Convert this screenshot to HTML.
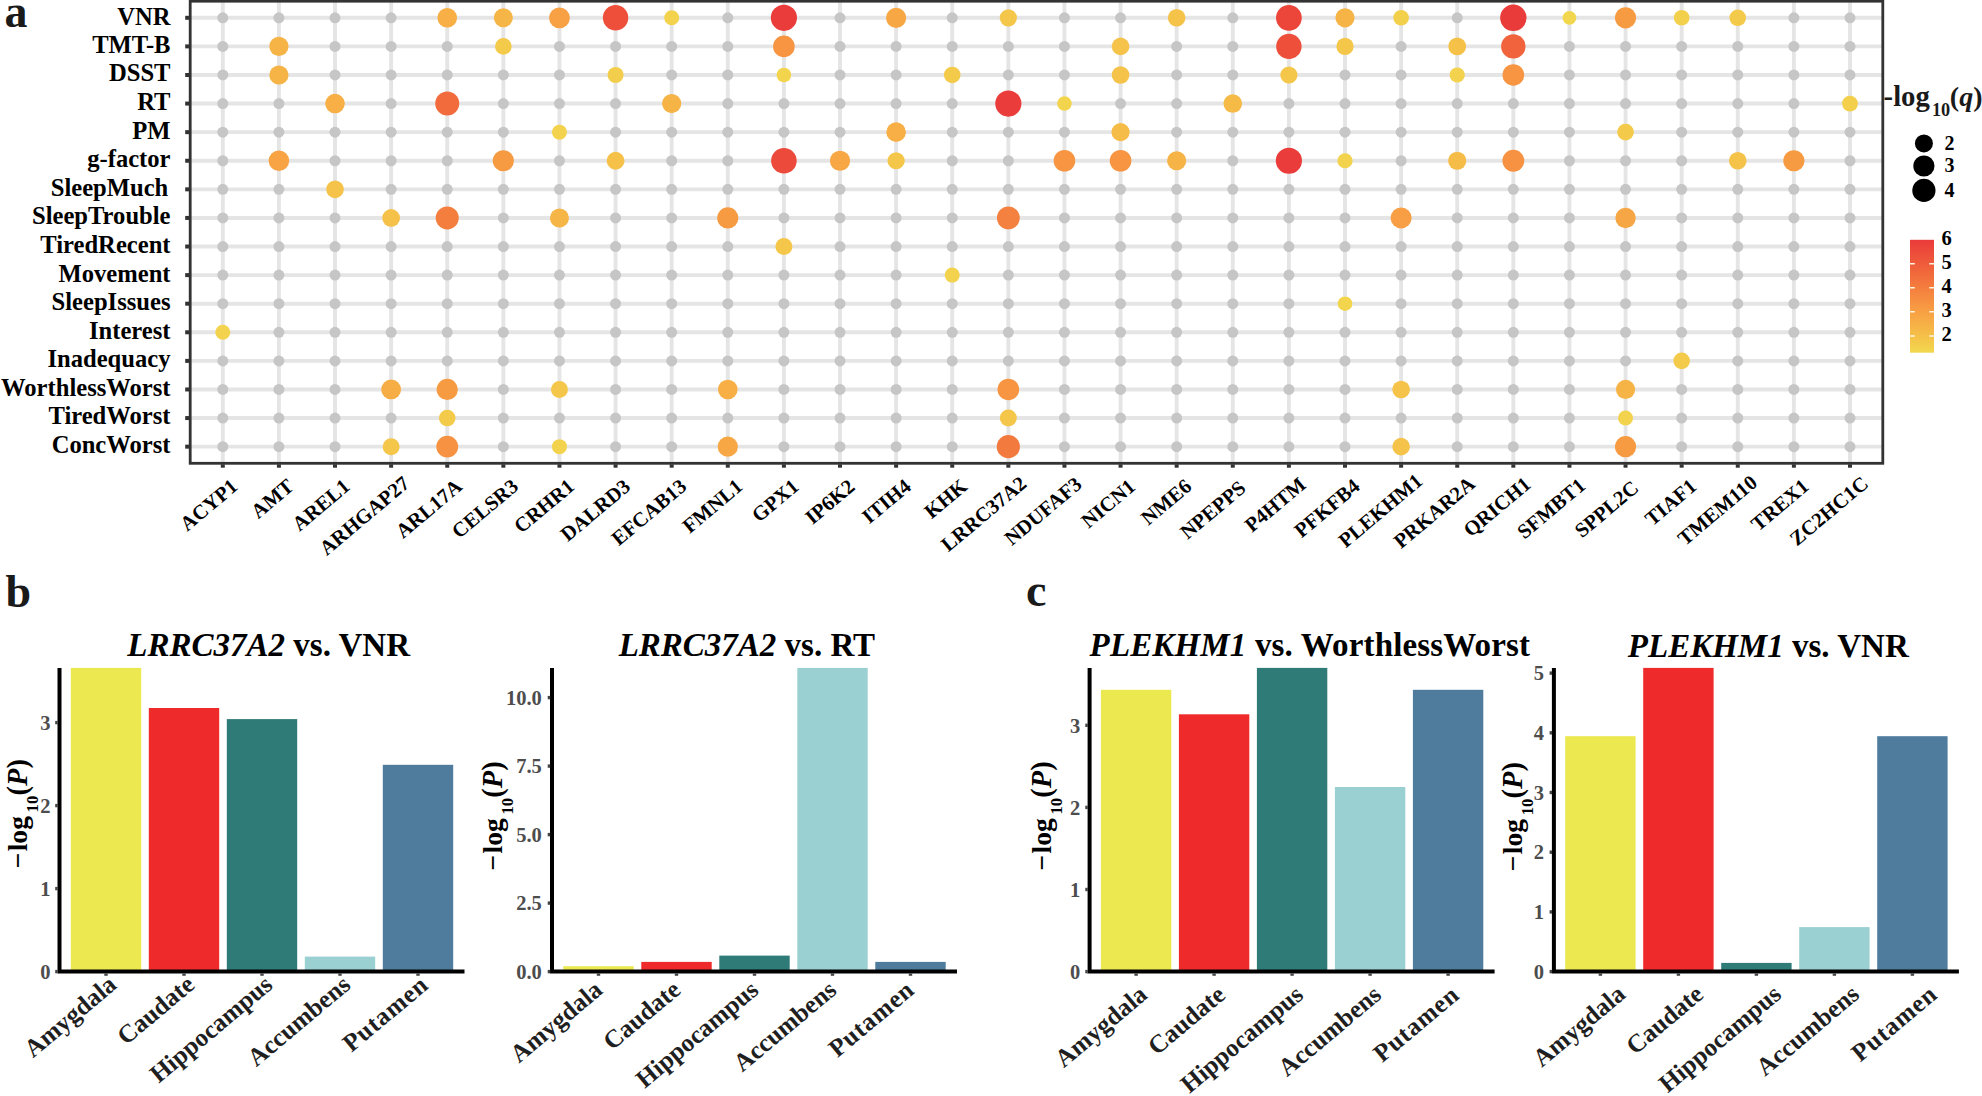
<!DOCTYPE html>
<html lang="en"><head><meta charset="utf-8"><title>Figure</title>
<style>html,body{margin:0;padding:0;background:#fff}svg{display:block}</style></head>
<body>
<svg width="1982" height="1096" viewBox="0 0 1982 1096" font-family='"Liberation Serif", serif' font-weight="bold">
<rect width="1982" height="1096" fill="#fff"/>
<g stroke="#e5e5e5" stroke-width="3.9">
<line x1="190.2" x2="1882.8" y1="17.80" y2="17.80"/>
<line x1="190.2" x2="1882.8" y1="46.39" y2="46.39"/>
<line x1="190.2" x2="1882.8" y1="74.98" y2="74.98"/>
<line x1="190.2" x2="1882.8" y1="103.57" y2="103.57"/>
<line x1="190.2" x2="1882.8" y1="132.16" y2="132.16"/>
<line x1="190.2" x2="1882.8" y1="160.75" y2="160.75"/>
<line x1="190.2" x2="1882.8" y1="189.34" y2="189.34"/>
<line x1="190.2" x2="1882.8" y1="217.93" y2="217.93"/>
<line x1="190.2" x2="1882.8" y1="246.52" y2="246.52"/>
<line x1="190.2" x2="1882.8" y1="275.11" y2="275.11"/>
<line x1="190.2" x2="1882.8" y1="303.70" y2="303.70"/>
<line x1="190.2" x2="1882.8" y1="332.29" y2="332.29"/>
<line x1="190.2" x2="1882.8" y1="360.88" y2="360.88"/>
<line x1="190.2" x2="1882.8" y1="389.47" y2="389.47"/>
<line x1="190.2" x2="1882.8" y1="418.06" y2="418.06"/>
<line x1="190.2" x2="1882.8" y1="446.65" y2="446.65"/>
<line y1="1.2" y2="463.3" x1="222.80" x2="222.80"/>
<line y1="1.2" y2="463.3" x1="278.91" x2="278.91"/>
<line y1="1.2" y2="463.3" x1="335.02" x2="335.02"/>
<line y1="1.2" y2="463.3" x1="391.13" x2="391.13"/>
<line y1="1.2" y2="463.3" x1="447.24" x2="447.24"/>
<line y1="1.2" y2="463.3" x1="503.35" x2="503.35"/>
<line y1="1.2" y2="463.3" x1="559.46" x2="559.46"/>
<line y1="1.2" y2="463.3" x1="615.57" x2="615.57"/>
<line y1="1.2" y2="463.3" x1="671.68" x2="671.68"/>
<line y1="1.2" y2="463.3" x1="727.79" x2="727.79"/>
<line y1="1.2" y2="463.3" x1="783.90" x2="783.90"/>
<line y1="1.2" y2="463.3" x1="840.01" x2="840.01"/>
<line y1="1.2" y2="463.3" x1="896.12" x2="896.12"/>
<line y1="1.2" y2="463.3" x1="952.23" x2="952.23"/>
<line y1="1.2" y2="463.3" x1="1008.34" x2="1008.34"/>
<line y1="1.2" y2="463.3" x1="1064.45" x2="1064.45"/>
<line y1="1.2" y2="463.3" x1="1120.56" x2="1120.56"/>
<line y1="1.2" y2="463.3" x1="1176.67" x2="1176.67"/>
<line y1="1.2" y2="463.3" x1="1232.78" x2="1232.78"/>
<line y1="1.2" y2="463.3" x1="1288.89" x2="1288.89"/>
<line y1="1.2" y2="463.3" x1="1345.00" x2="1345.00"/>
<line y1="1.2" y2="463.3" x1="1401.11" x2="1401.11"/>
<line y1="1.2" y2="463.3" x1="1457.22" x2="1457.22"/>
<line y1="1.2" y2="463.3" x1="1513.33" x2="1513.33"/>
<line y1="1.2" y2="463.3" x1="1569.44" x2="1569.44"/>
<line y1="1.2" y2="463.3" x1="1625.55" x2="1625.55"/>
<line y1="1.2" y2="463.3" x1="1681.66" x2="1681.66"/>
<line y1="1.2" y2="463.3" x1="1737.77" x2="1737.77"/>
<line y1="1.2" y2="463.3" x1="1793.88" x2="1793.88"/>
<line y1="1.2" y2="463.3" x1="1849.99" x2="1849.99"/>
</g>
<g fill="#c6c6c6">
<circle cx="222.80" cy="17.80" r="5.5"/>
<circle cx="278.91" cy="17.80" r="5.5"/>
<circle cx="335.02" cy="17.80" r="5.5"/>
<circle cx="391.13" cy="17.80" r="5.5"/>
<circle cx="727.79" cy="17.80" r="5.5"/>
<circle cx="840.01" cy="17.80" r="5.5"/>
<circle cx="952.23" cy="17.80" r="5.5"/>
<circle cx="1064.45" cy="17.80" r="5.5"/>
<circle cx="1120.56" cy="17.80" r="5.5"/>
<circle cx="1232.78" cy="17.80" r="5.5"/>
<circle cx="1457.22" cy="17.80" r="5.5"/>
<circle cx="1793.88" cy="17.80" r="5.5"/>
<circle cx="1849.99" cy="17.80" r="5.5"/>
<circle cx="222.80" cy="46.39" r="5.5"/>
<circle cx="335.02" cy="46.39" r="5.5"/>
<circle cx="391.13" cy="46.39" r="5.5"/>
<circle cx="447.24" cy="46.39" r="5.5"/>
<circle cx="559.46" cy="46.39" r="5.5"/>
<circle cx="615.57" cy="46.39" r="5.5"/>
<circle cx="671.68" cy="46.39" r="5.5"/>
<circle cx="727.79" cy="46.39" r="5.5"/>
<circle cx="840.01" cy="46.39" r="5.5"/>
<circle cx="896.12" cy="46.39" r="5.5"/>
<circle cx="952.23" cy="46.39" r="5.5"/>
<circle cx="1008.34" cy="46.39" r="5.5"/>
<circle cx="1064.45" cy="46.39" r="5.5"/>
<circle cx="1176.67" cy="46.39" r="5.5"/>
<circle cx="1232.78" cy="46.39" r="5.5"/>
<circle cx="1401.11" cy="46.39" r="5.5"/>
<circle cx="1569.44" cy="46.39" r="5.5"/>
<circle cx="1625.55" cy="46.39" r="5.5"/>
<circle cx="1681.66" cy="46.39" r="5.5"/>
<circle cx="1737.77" cy="46.39" r="5.5"/>
<circle cx="1793.88" cy="46.39" r="5.5"/>
<circle cx="1849.99" cy="46.39" r="5.5"/>
<circle cx="222.80" cy="74.98" r="5.5"/>
<circle cx="335.02" cy="74.98" r="5.5"/>
<circle cx="391.13" cy="74.98" r="5.5"/>
<circle cx="447.24" cy="74.98" r="5.5"/>
<circle cx="503.35" cy="74.98" r="5.5"/>
<circle cx="559.46" cy="74.98" r="5.5"/>
<circle cx="671.68" cy="74.98" r="5.5"/>
<circle cx="727.79" cy="74.98" r="5.5"/>
<circle cx="840.01" cy="74.98" r="5.5"/>
<circle cx="896.12" cy="74.98" r="5.5"/>
<circle cx="1008.34" cy="74.98" r="5.5"/>
<circle cx="1064.45" cy="74.98" r="5.5"/>
<circle cx="1176.67" cy="74.98" r="5.5"/>
<circle cx="1232.78" cy="74.98" r="5.5"/>
<circle cx="1345.00" cy="74.98" r="5.5"/>
<circle cx="1401.11" cy="74.98" r="5.5"/>
<circle cx="1569.44" cy="74.98" r="5.5"/>
<circle cx="1625.55" cy="74.98" r="5.5"/>
<circle cx="1681.66" cy="74.98" r="5.5"/>
<circle cx="1737.77" cy="74.98" r="5.5"/>
<circle cx="1793.88" cy="74.98" r="5.5"/>
<circle cx="1849.99" cy="74.98" r="5.5"/>
<circle cx="222.80" cy="103.57" r="5.5"/>
<circle cx="278.91" cy="103.57" r="5.5"/>
<circle cx="391.13" cy="103.57" r="5.5"/>
<circle cx="503.35" cy="103.57" r="5.5"/>
<circle cx="559.46" cy="103.57" r="5.5"/>
<circle cx="615.57" cy="103.57" r="5.5"/>
<circle cx="727.79" cy="103.57" r="5.5"/>
<circle cx="783.90" cy="103.57" r="5.5"/>
<circle cx="840.01" cy="103.57" r="5.5"/>
<circle cx="896.12" cy="103.57" r="5.5"/>
<circle cx="952.23" cy="103.57" r="5.5"/>
<circle cx="1120.56" cy="103.57" r="5.5"/>
<circle cx="1176.67" cy="103.57" r="5.5"/>
<circle cx="1288.89" cy="103.57" r="5.5"/>
<circle cx="1345.00" cy="103.57" r="5.5"/>
<circle cx="1401.11" cy="103.57" r="5.5"/>
<circle cx="1457.22" cy="103.57" r="5.5"/>
<circle cx="1513.33" cy="103.57" r="5.5"/>
<circle cx="1569.44" cy="103.57" r="5.5"/>
<circle cx="1625.55" cy="103.57" r="5.5"/>
<circle cx="1681.66" cy="103.57" r="5.5"/>
<circle cx="1737.77" cy="103.57" r="5.5"/>
<circle cx="1793.88" cy="103.57" r="5.5"/>
<circle cx="222.80" cy="132.16" r="5.5"/>
<circle cx="278.91" cy="132.16" r="5.5"/>
<circle cx="335.02" cy="132.16" r="5.5"/>
<circle cx="391.13" cy="132.16" r="5.5"/>
<circle cx="447.24" cy="132.16" r="5.5"/>
<circle cx="503.35" cy="132.16" r="5.5"/>
<circle cx="615.57" cy="132.16" r="5.5"/>
<circle cx="671.68" cy="132.16" r="5.5"/>
<circle cx="727.79" cy="132.16" r="5.5"/>
<circle cx="783.90" cy="132.16" r="5.5"/>
<circle cx="840.01" cy="132.16" r="5.5"/>
<circle cx="952.23" cy="132.16" r="5.5"/>
<circle cx="1008.34" cy="132.16" r="5.5"/>
<circle cx="1064.45" cy="132.16" r="5.5"/>
<circle cx="1176.67" cy="132.16" r="5.5"/>
<circle cx="1232.78" cy="132.16" r="5.5"/>
<circle cx="1288.89" cy="132.16" r="5.5"/>
<circle cx="1345.00" cy="132.16" r="5.5"/>
<circle cx="1401.11" cy="132.16" r="5.5"/>
<circle cx="1457.22" cy="132.16" r="5.5"/>
<circle cx="1513.33" cy="132.16" r="5.5"/>
<circle cx="1569.44" cy="132.16" r="5.5"/>
<circle cx="1681.66" cy="132.16" r="5.5"/>
<circle cx="1737.77" cy="132.16" r="5.5"/>
<circle cx="1793.88" cy="132.16" r="5.5"/>
<circle cx="1849.99" cy="132.16" r="5.5"/>
<circle cx="222.80" cy="160.75" r="5.5"/>
<circle cx="335.02" cy="160.75" r="5.5"/>
<circle cx="391.13" cy="160.75" r="5.5"/>
<circle cx="447.24" cy="160.75" r="5.5"/>
<circle cx="559.46" cy="160.75" r="5.5"/>
<circle cx="671.68" cy="160.75" r="5.5"/>
<circle cx="727.79" cy="160.75" r="5.5"/>
<circle cx="952.23" cy="160.75" r="5.5"/>
<circle cx="1008.34" cy="160.75" r="5.5"/>
<circle cx="1232.78" cy="160.75" r="5.5"/>
<circle cx="1401.11" cy="160.75" r="5.5"/>
<circle cx="1569.44" cy="160.75" r="5.5"/>
<circle cx="1625.55" cy="160.75" r="5.5"/>
<circle cx="1681.66" cy="160.75" r="5.5"/>
<circle cx="1849.99" cy="160.75" r="5.5"/>
<circle cx="222.80" cy="189.34" r="5.5"/>
<circle cx="278.91" cy="189.34" r="5.5"/>
<circle cx="391.13" cy="189.34" r="5.5"/>
<circle cx="447.24" cy="189.34" r="5.5"/>
<circle cx="503.35" cy="189.34" r="5.5"/>
<circle cx="559.46" cy="189.34" r="5.5"/>
<circle cx="615.57" cy="189.34" r="5.5"/>
<circle cx="671.68" cy="189.34" r="5.5"/>
<circle cx="727.79" cy="189.34" r="5.5"/>
<circle cx="783.90" cy="189.34" r="5.5"/>
<circle cx="840.01" cy="189.34" r="5.5"/>
<circle cx="896.12" cy="189.34" r="5.5"/>
<circle cx="952.23" cy="189.34" r="5.5"/>
<circle cx="1008.34" cy="189.34" r="5.5"/>
<circle cx="1064.45" cy="189.34" r="5.5"/>
<circle cx="1120.56" cy="189.34" r="5.5"/>
<circle cx="1176.67" cy="189.34" r="5.5"/>
<circle cx="1232.78" cy="189.34" r="5.5"/>
<circle cx="1288.89" cy="189.34" r="5.5"/>
<circle cx="1345.00" cy="189.34" r="5.5"/>
<circle cx="1401.11" cy="189.34" r="5.5"/>
<circle cx="1457.22" cy="189.34" r="5.5"/>
<circle cx="1513.33" cy="189.34" r="5.5"/>
<circle cx="1569.44" cy="189.34" r="5.5"/>
<circle cx="1625.55" cy="189.34" r="5.5"/>
<circle cx="1681.66" cy="189.34" r="5.5"/>
<circle cx="1737.77" cy="189.34" r="5.5"/>
<circle cx="1793.88" cy="189.34" r="5.5"/>
<circle cx="1849.99" cy="189.34" r="5.5"/>
<circle cx="222.80" cy="217.93" r="5.5"/>
<circle cx="278.91" cy="217.93" r="5.5"/>
<circle cx="335.02" cy="217.93" r="5.5"/>
<circle cx="503.35" cy="217.93" r="5.5"/>
<circle cx="615.57" cy="217.93" r="5.5"/>
<circle cx="671.68" cy="217.93" r="5.5"/>
<circle cx="783.90" cy="217.93" r="5.5"/>
<circle cx="840.01" cy="217.93" r="5.5"/>
<circle cx="896.12" cy="217.93" r="5.5"/>
<circle cx="952.23" cy="217.93" r="5.5"/>
<circle cx="1064.45" cy="217.93" r="5.5"/>
<circle cx="1120.56" cy="217.93" r="5.5"/>
<circle cx="1176.67" cy="217.93" r="5.5"/>
<circle cx="1232.78" cy="217.93" r="5.5"/>
<circle cx="1288.89" cy="217.93" r="5.5"/>
<circle cx="1345.00" cy="217.93" r="5.5"/>
<circle cx="1457.22" cy="217.93" r="5.5"/>
<circle cx="1513.33" cy="217.93" r="5.5"/>
<circle cx="1569.44" cy="217.93" r="5.5"/>
<circle cx="1681.66" cy="217.93" r="5.5"/>
<circle cx="1737.77" cy="217.93" r="5.5"/>
<circle cx="1793.88" cy="217.93" r="5.5"/>
<circle cx="1849.99" cy="217.93" r="5.5"/>
<circle cx="222.80" cy="246.52" r="5.5"/>
<circle cx="278.91" cy="246.52" r="5.5"/>
<circle cx="335.02" cy="246.52" r="5.5"/>
<circle cx="391.13" cy="246.52" r="5.5"/>
<circle cx="447.24" cy="246.52" r="5.5"/>
<circle cx="503.35" cy="246.52" r="5.5"/>
<circle cx="559.46" cy="246.52" r="5.5"/>
<circle cx="615.57" cy="246.52" r="5.5"/>
<circle cx="671.68" cy="246.52" r="5.5"/>
<circle cx="727.79" cy="246.52" r="5.5"/>
<circle cx="840.01" cy="246.52" r="5.5"/>
<circle cx="896.12" cy="246.52" r="5.5"/>
<circle cx="952.23" cy="246.52" r="5.5"/>
<circle cx="1008.34" cy="246.52" r="5.5"/>
<circle cx="1064.45" cy="246.52" r="5.5"/>
<circle cx="1120.56" cy="246.52" r="5.5"/>
<circle cx="1176.67" cy="246.52" r="5.5"/>
<circle cx="1232.78" cy="246.52" r="5.5"/>
<circle cx="1288.89" cy="246.52" r="5.5"/>
<circle cx="1345.00" cy="246.52" r="5.5"/>
<circle cx="1401.11" cy="246.52" r="5.5"/>
<circle cx="1457.22" cy="246.52" r="5.5"/>
<circle cx="1513.33" cy="246.52" r="5.5"/>
<circle cx="1569.44" cy="246.52" r="5.5"/>
<circle cx="1625.55" cy="246.52" r="5.5"/>
<circle cx="1681.66" cy="246.52" r="5.5"/>
<circle cx="1737.77" cy="246.52" r="5.5"/>
<circle cx="1793.88" cy="246.52" r="5.5"/>
<circle cx="1849.99" cy="246.52" r="5.5"/>
<circle cx="222.80" cy="275.11" r="5.5"/>
<circle cx="278.91" cy="275.11" r="5.5"/>
<circle cx="335.02" cy="275.11" r="5.5"/>
<circle cx="391.13" cy="275.11" r="5.5"/>
<circle cx="447.24" cy="275.11" r="5.5"/>
<circle cx="503.35" cy="275.11" r="5.5"/>
<circle cx="559.46" cy="275.11" r="5.5"/>
<circle cx="615.57" cy="275.11" r="5.5"/>
<circle cx="671.68" cy="275.11" r="5.5"/>
<circle cx="727.79" cy="275.11" r="5.5"/>
<circle cx="783.90" cy="275.11" r="5.5"/>
<circle cx="840.01" cy="275.11" r="5.5"/>
<circle cx="896.12" cy="275.11" r="5.5"/>
<circle cx="1008.34" cy="275.11" r="5.5"/>
<circle cx="1064.45" cy="275.11" r="5.5"/>
<circle cx="1120.56" cy="275.11" r="5.5"/>
<circle cx="1176.67" cy="275.11" r="5.5"/>
<circle cx="1232.78" cy="275.11" r="5.5"/>
<circle cx="1288.89" cy="275.11" r="5.5"/>
<circle cx="1345.00" cy="275.11" r="5.5"/>
<circle cx="1401.11" cy="275.11" r="5.5"/>
<circle cx="1457.22" cy="275.11" r="5.5"/>
<circle cx="1513.33" cy="275.11" r="5.5"/>
<circle cx="1569.44" cy="275.11" r="5.5"/>
<circle cx="1625.55" cy="275.11" r="5.5"/>
<circle cx="1681.66" cy="275.11" r="5.5"/>
<circle cx="1737.77" cy="275.11" r="5.5"/>
<circle cx="1793.88" cy="275.11" r="5.5"/>
<circle cx="1849.99" cy="275.11" r="5.5"/>
<circle cx="222.80" cy="303.70" r="5.5"/>
<circle cx="278.91" cy="303.70" r="5.5"/>
<circle cx="335.02" cy="303.70" r="5.5"/>
<circle cx="391.13" cy="303.70" r="5.5"/>
<circle cx="447.24" cy="303.70" r="5.5"/>
<circle cx="503.35" cy="303.70" r="5.5"/>
<circle cx="559.46" cy="303.70" r="5.5"/>
<circle cx="615.57" cy="303.70" r="5.5"/>
<circle cx="671.68" cy="303.70" r="5.5"/>
<circle cx="727.79" cy="303.70" r="5.5"/>
<circle cx="783.90" cy="303.70" r="5.5"/>
<circle cx="840.01" cy="303.70" r="5.5"/>
<circle cx="896.12" cy="303.70" r="5.5"/>
<circle cx="952.23" cy="303.70" r="5.5"/>
<circle cx="1008.34" cy="303.70" r="5.5"/>
<circle cx="1064.45" cy="303.70" r="5.5"/>
<circle cx="1120.56" cy="303.70" r="5.5"/>
<circle cx="1176.67" cy="303.70" r="5.5"/>
<circle cx="1232.78" cy="303.70" r="5.5"/>
<circle cx="1288.89" cy="303.70" r="5.5"/>
<circle cx="1401.11" cy="303.70" r="5.5"/>
<circle cx="1457.22" cy="303.70" r="5.5"/>
<circle cx="1513.33" cy="303.70" r="5.5"/>
<circle cx="1569.44" cy="303.70" r="5.5"/>
<circle cx="1625.55" cy="303.70" r="5.5"/>
<circle cx="1681.66" cy="303.70" r="5.5"/>
<circle cx="1737.77" cy="303.70" r="5.5"/>
<circle cx="1793.88" cy="303.70" r="5.5"/>
<circle cx="1849.99" cy="303.70" r="5.5"/>
<circle cx="278.91" cy="332.29" r="5.5"/>
<circle cx="335.02" cy="332.29" r="5.5"/>
<circle cx="391.13" cy="332.29" r="5.5"/>
<circle cx="447.24" cy="332.29" r="5.5"/>
<circle cx="503.35" cy="332.29" r="5.5"/>
<circle cx="559.46" cy="332.29" r="5.5"/>
<circle cx="615.57" cy="332.29" r="5.5"/>
<circle cx="671.68" cy="332.29" r="5.5"/>
<circle cx="727.79" cy="332.29" r="5.5"/>
<circle cx="783.90" cy="332.29" r="5.5"/>
<circle cx="840.01" cy="332.29" r="5.5"/>
<circle cx="896.12" cy="332.29" r="5.5"/>
<circle cx="952.23" cy="332.29" r="5.5"/>
<circle cx="1008.34" cy="332.29" r="5.5"/>
<circle cx="1064.45" cy="332.29" r="5.5"/>
<circle cx="1120.56" cy="332.29" r="5.5"/>
<circle cx="1176.67" cy="332.29" r="5.5"/>
<circle cx="1232.78" cy="332.29" r="5.5"/>
<circle cx="1288.89" cy="332.29" r="5.5"/>
<circle cx="1345.00" cy="332.29" r="5.5"/>
<circle cx="1401.11" cy="332.29" r="5.5"/>
<circle cx="1457.22" cy="332.29" r="5.5"/>
<circle cx="1513.33" cy="332.29" r="5.5"/>
<circle cx="1569.44" cy="332.29" r="5.5"/>
<circle cx="1625.55" cy="332.29" r="5.5"/>
<circle cx="1681.66" cy="332.29" r="5.5"/>
<circle cx="1737.77" cy="332.29" r="5.5"/>
<circle cx="1793.88" cy="332.29" r="5.5"/>
<circle cx="1849.99" cy="332.29" r="5.5"/>
<circle cx="222.80" cy="360.88" r="5.5"/>
<circle cx="278.91" cy="360.88" r="5.5"/>
<circle cx="335.02" cy="360.88" r="5.5"/>
<circle cx="391.13" cy="360.88" r="5.5"/>
<circle cx="447.24" cy="360.88" r="5.5"/>
<circle cx="503.35" cy="360.88" r="5.5"/>
<circle cx="559.46" cy="360.88" r="5.5"/>
<circle cx="615.57" cy="360.88" r="5.5"/>
<circle cx="671.68" cy="360.88" r="5.5"/>
<circle cx="727.79" cy="360.88" r="5.5"/>
<circle cx="783.90" cy="360.88" r="5.5"/>
<circle cx="840.01" cy="360.88" r="5.5"/>
<circle cx="896.12" cy="360.88" r="5.5"/>
<circle cx="952.23" cy="360.88" r="5.5"/>
<circle cx="1008.34" cy="360.88" r="5.5"/>
<circle cx="1064.45" cy="360.88" r="5.5"/>
<circle cx="1120.56" cy="360.88" r="5.5"/>
<circle cx="1176.67" cy="360.88" r="5.5"/>
<circle cx="1232.78" cy="360.88" r="5.5"/>
<circle cx="1288.89" cy="360.88" r="5.5"/>
<circle cx="1345.00" cy="360.88" r="5.5"/>
<circle cx="1401.11" cy="360.88" r="5.5"/>
<circle cx="1457.22" cy="360.88" r="5.5"/>
<circle cx="1513.33" cy="360.88" r="5.5"/>
<circle cx="1569.44" cy="360.88" r="5.5"/>
<circle cx="1625.55" cy="360.88" r="5.5"/>
<circle cx="1737.77" cy="360.88" r="5.5"/>
<circle cx="1793.88" cy="360.88" r="5.5"/>
<circle cx="1849.99" cy="360.88" r="5.5"/>
<circle cx="222.80" cy="389.47" r="5.5"/>
<circle cx="278.91" cy="389.47" r="5.5"/>
<circle cx="335.02" cy="389.47" r="5.5"/>
<circle cx="503.35" cy="389.47" r="5.5"/>
<circle cx="615.57" cy="389.47" r="5.5"/>
<circle cx="671.68" cy="389.47" r="5.5"/>
<circle cx="783.90" cy="389.47" r="5.5"/>
<circle cx="840.01" cy="389.47" r="5.5"/>
<circle cx="896.12" cy="389.47" r="5.5"/>
<circle cx="952.23" cy="389.47" r="5.5"/>
<circle cx="1064.45" cy="389.47" r="5.5"/>
<circle cx="1120.56" cy="389.47" r="5.5"/>
<circle cx="1176.67" cy="389.47" r="5.5"/>
<circle cx="1232.78" cy="389.47" r="5.5"/>
<circle cx="1288.89" cy="389.47" r="5.5"/>
<circle cx="1345.00" cy="389.47" r="5.5"/>
<circle cx="1457.22" cy="389.47" r="5.5"/>
<circle cx="1513.33" cy="389.47" r="5.5"/>
<circle cx="1569.44" cy="389.47" r="5.5"/>
<circle cx="1681.66" cy="389.47" r="5.5"/>
<circle cx="1737.77" cy="389.47" r="5.5"/>
<circle cx="1793.88" cy="389.47" r="5.5"/>
<circle cx="1849.99" cy="389.47" r="5.5"/>
<circle cx="222.80" cy="418.06" r="5.5"/>
<circle cx="278.91" cy="418.06" r="5.5"/>
<circle cx="335.02" cy="418.06" r="5.5"/>
<circle cx="391.13" cy="418.06" r="5.5"/>
<circle cx="503.35" cy="418.06" r="5.5"/>
<circle cx="559.46" cy="418.06" r="5.5"/>
<circle cx="615.57" cy="418.06" r="5.5"/>
<circle cx="671.68" cy="418.06" r="5.5"/>
<circle cx="727.79" cy="418.06" r="5.5"/>
<circle cx="783.90" cy="418.06" r="5.5"/>
<circle cx="840.01" cy="418.06" r="5.5"/>
<circle cx="896.12" cy="418.06" r="5.5"/>
<circle cx="952.23" cy="418.06" r="5.5"/>
<circle cx="1064.45" cy="418.06" r="5.5"/>
<circle cx="1120.56" cy="418.06" r="5.5"/>
<circle cx="1176.67" cy="418.06" r="5.5"/>
<circle cx="1232.78" cy="418.06" r="5.5"/>
<circle cx="1288.89" cy="418.06" r="5.5"/>
<circle cx="1345.00" cy="418.06" r="5.5"/>
<circle cx="1401.11" cy="418.06" r="5.5"/>
<circle cx="1457.22" cy="418.06" r="5.5"/>
<circle cx="1513.33" cy="418.06" r="5.5"/>
<circle cx="1569.44" cy="418.06" r="5.5"/>
<circle cx="1681.66" cy="418.06" r="5.5"/>
<circle cx="1737.77" cy="418.06" r="5.5"/>
<circle cx="1793.88" cy="418.06" r="5.5"/>
<circle cx="1849.99" cy="418.06" r="5.5"/>
<circle cx="222.80" cy="446.65" r="5.5"/>
<circle cx="278.91" cy="446.65" r="5.5"/>
<circle cx="335.02" cy="446.65" r="5.5"/>
<circle cx="503.35" cy="446.65" r="5.5"/>
<circle cx="615.57" cy="446.65" r="5.5"/>
<circle cx="671.68" cy="446.65" r="5.5"/>
<circle cx="783.90" cy="446.65" r="5.5"/>
<circle cx="840.01" cy="446.65" r="5.5"/>
<circle cx="896.12" cy="446.65" r="5.5"/>
<circle cx="952.23" cy="446.65" r="5.5"/>
<circle cx="1064.45" cy="446.65" r="5.5"/>
<circle cx="1120.56" cy="446.65" r="5.5"/>
<circle cx="1176.67" cy="446.65" r="5.5"/>
<circle cx="1232.78" cy="446.65" r="5.5"/>
<circle cx="1288.89" cy="446.65" r="5.5"/>
<circle cx="1345.00" cy="446.65" r="5.5"/>
<circle cx="1457.22" cy="446.65" r="5.5"/>
<circle cx="1513.33" cy="446.65" r="5.5"/>
<circle cx="1569.44" cy="446.65" r="5.5"/>
<circle cx="1681.66" cy="446.65" r="5.5"/>
<circle cx="1737.77" cy="446.65" r="5.5"/>
<circle cx="1793.88" cy="446.65" r="5.5"/>
<circle cx="1849.99" cy="446.65" r="5.5"/>
</g>
<circle cx="447.24" cy="17.80" r="9.8" fill="#f7af46"/>
<circle cx="503.35" cy="17.80" r="9.5" fill="#f6b647"/>
<circle cx="559.46" cy="17.80" r="10.4" fill="#f8a144"/>
<circle cx="615.57" cy="17.80" r="12.7" fill="#ed4f3b"/>
<circle cx="671.68" cy="17.80" r="7.5" fill="#f3d34d"/>
<circle cx="783.90" cy="17.80" r="13.1" fill="#ea3d3b"/>
<circle cx="896.12" cy="17.80" r="10.1" fill="#f7a845"/>
<circle cx="1008.34" cy="17.80" r="8.6" fill="#f4c649"/>
<circle cx="1176.67" cy="17.80" r="8.8" fill="#f5c349"/>
<circle cx="1288.89" cy="17.80" r="12.9" fill="#ec463b"/>
<circle cx="1345.00" cy="17.80" r="9.6" fill="#f6b346"/>
<circle cx="1401.11" cy="17.80" r="7.8" fill="#f3d04c"/>
<circle cx="1513.33" cy="17.80" r="13.2" fill="#ea3b3b"/>
<circle cx="1569.44" cy="17.80" r="6.9" fill="#f2d74e"/>
<circle cx="1625.55" cy="17.80" r="10.6" fill="#f79b43"/>
<circle cx="1681.66" cy="17.80" r="7.8" fill="#f3d04c"/>
<circle cx="1737.77" cy="17.80" r="8.3" fill="#f4ca4b"/>
<circle cx="278.91" cy="46.39" r="9.6" fill="#f6b346"/>
<circle cx="503.35" cy="46.39" r="8.3" fill="#f4ca4b"/>
<circle cx="783.90" cy="46.39" r="10.8" fill="#f79542"/>
<circle cx="1120.56" cy="46.39" r="8.8" fill="#f5c349"/>
<circle cx="1288.89" cy="46.39" r="12.7" fill="#ed4f3b"/>
<circle cx="1345.00" cy="46.39" r="8.6" fill="#f4c649"/>
<circle cx="1457.22" cy="46.39" r="8.9" fill="#f5c148"/>
<circle cx="1513.33" cy="46.39" r="12.2" fill="#f0633c"/>
<circle cx="278.91" cy="74.98" r="9.6" fill="#f6b346"/>
<circle cx="615.57" cy="74.98" r="8.0" fill="#f3ce4c"/>
<circle cx="783.90" cy="74.98" r="7.3" fill="#f2d54d"/>
<circle cx="952.23" cy="74.98" r="8.3" fill="#f4ca4b"/>
<circle cx="1120.56" cy="74.98" r="8.8" fill="#f5c349"/>
<circle cx="1288.89" cy="74.98" r="8.6" fill="#f4c649"/>
<circle cx="1457.22" cy="74.98" r="7.6" fill="#f3d24d"/>
<circle cx="1513.33" cy="74.98" r="10.8" fill="#f79542"/>
<circle cx="335.02" cy="103.57" r="9.8" fill="#f7af46"/>
<circle cx="447.24" cy="103.57" r="12.0" fill="#f16b3c"/>
<circle cx="671.68" cy="103.57" r="9.6" fill="#f6b346"/>
<circle cx="1008.34" cy="103.57" r="13.1" fill="#ea3d3b"/>
<circle cx="1064.45" cy="103.57" r="7.3" fill="#f2d54d"/>
<circle cx="1232.78" cy="103.57" r="9.3" fill="#f6ba47"/>
<circle cx="1849.99" cy="103.57" r="7.9" fill="#f3cf4c"/>
<circle cx="559.46" cy="132.16" r="7.5" fill="#f3d34d"/>
<circle cx="896.12" cy="132.16" r="9.8" fill="#f7af46"/>
<circle cx="1120.56" cy="132.16" r="9.1" fill="#f5bd48"/>
<circle cx="1625.55" cy="132.16" r="8.3" fill="#f4ca4b"/>
<circle cx="278.91" cy="160.75" r="10.3" fill="#f8a344"/>
<circle cx="503.35" cy="160.75" r="10.6" fill="#f79b43"/>
<circle cx="615.57" cy="160.75" r="8.9" fill="#f5c148"/>
<circle cx="783.90" cy="160.75" r="12.8" fill="#ec4a3b"/>
<circle cx="840.01" cy="160.75" r="10.1" fill="#f7a845"/>
<circle cx="896.12" cy="160.75" r="8.6" fill="#f4c649"/>
<circle cx="1064.45" cy="160.75" r="10.8" fill="#f79542"/>
<circle cx="1120.56" cy="160.75" r="10.8" fill="#f79542"/>
<circle cx="1176.67" cy="160.75" r="9.6" fill="#f6b346"/>
<circle cx="1288.89" cy="160.75" r="13.1" fill="#ea3d3b"/>
<circle cx="1345.00" cy="160.75" r="7.6" fill="#f3d24d"/>
<circle cx="1457.22" cy="160.75" r="9.1" fill="#f5bd48"/>
<circle cx="1513.33" cy="160.75" r="10.9" fill="#f69241"/>
<circle cx="1737.77" cy="160.75" r="8.8" fill="#f5c349"/>
<circle cx="1793.88" cy="160.75" r="10.6" fill="#f79b43"/>
<circle cx="335.02" cy="189.34" r="8.8" fill="#f5c349"/>
<circle cx="391.13" cy="217.93" r="8.9" fill="#f5c148"/>
<circle cx="447.24" cy="217.93" r="11.5" fill="#f47e3e"/>
<circle cx="559.46" cy="217.93" r="9.5" fill="#f6b647"/>
<circle cx="727.79" cy="217.93" r="10.6" fill="#f79b43"/>
<circle cx="1008.34" cy="217.93" r="11.4" fill="#f4813f"/>
<circle cx="1401.11" cy="217.93" r="10.5" fill="#f89e44"/>
<circle cx="1625.55" cy="217.93" r="10.2" fill="#f7a645"/>
<circle cx="783.90" cy="246.52" r="8.5" fill="#f4c74a"/>
<circle cx="952.23" cy="275.11" r="7.5" fill="#f3d34d"/>
<circle cx="1345.00" cy="303.70" r="7.3" fill="#f2d54d"/>
<circle cx="222.80" cy="332.29" r="7.5" fill="#f3d34d"/>
<circle cx="1681.66" cy="360.88" r="8.3" fill="#f4ca4b"/>
<circle cx="391.13" cy="389.47" r="9.9" fill="#f7ad46"/>
<circle cx="447.24" cy="389.47" r="10.6" fill="#f79b43"/>
<circle cx="559.46" cy="389.47" r="8.5" fill="#f4c74a"/>
<circle cx="727.79" cy="389.47" r="9.8" fill="#f7af46"/>
<circle cx="1008.34" cy="389.47" r="10.8" fill="#f79542"/>
<circle cx="1401.11" cy="389.47" r="8.8" fill="#f5c349"/>
<circle cx="1625.55" cy="389.47" r="9.6" fill="#f6b346"/>
<circle cx="447.24" cy="418.06" r="8.3" fill="#f4ca4b"/>
<circle cx="1008.34" cy="418.06" r="8.5" fill="#f4c74a"/>
<circle cx="1625.55" cy="418.06" r="7.5" fill="#f3d34d"/>
<circle cx="391.13" cy="446.65" r="8.5" fill="#f4c74a"/>
<circle cx="447.24" cy="446.65" r="10.9" fill="#f69241"/>
<circle cx="559.46" cy="446.65" r="7.5" fill="#f3d34d"/>
<circle cx="727.79" cy="446.65" r="10.1" fill="#f7a845"/>
<circle cx="1008.34" cy="446.65" r="11.6" fill="#f37a3e"/>
<circle cx="1401.11" cy="446.65" r="8.8" fill="#f5c349"/>
<circle cx="1625.55" cy="446.65" r="10.6" fill="#f79b43"/>
<rect x="190.2" y="1.2" width="1692.6" height="462.1" fill="none" stroke="#333" stroke-width="2.8"/>
<g stroke="#333" stroke-width="4">
<line x1="185.2" x2="189.2" y1="17.80" y2="17.80"/>
<line x1="185.2" x2="189.2" y1="46.39" y2="46.39"/>
<line x1="185.2" x2="189.2" y1="74.98" y2="74.98"/>
<line x1="185.2" x2="189.2" y1="103.57" y2="103.57"/>
<line x1="185.2" x2="189.2" y1="132.16" y2="132.16"/>
<line x1="185.2" x2="189.2" y1="160.75" y2="160.75"/>
<line x1="185.2" x2="189.2" y1="189.34" y2="189.34"/>
<line x1="185.2" x2="189.2" y1="217.93" y2="217.93"/>
<line x1="185.2" x2="189.2" y1="246.52" y2="246.52"/>
<line x1="185.2" x2="189.2" y1="275.11" y2="275.11"/>
<line x1="185.2" x2="189.2" y1="303.70" y2="303.70"/>
<line x1="185.2" x2="189.2" y1="332.29" y2="332.29"/>
<line x1="185.2" x2="189.2" y1="360.88" y2="360.88"/>
<line x1="185.2" x2="189.2" y1="389.47" y2="389.47"/>
<line x1="185.2" x2="189.2" y1="418.06" y2="418.06"/>
<line x1="185.2" x2="189.2" y1="446.65" y2="446.65"/>
<line y1="464.3" y2="467.7" x1="222.80" x2="222.80"/>
<line y1="464.3" y2="467.7" x1="278.91" x2="278.91"/>
<line y1="464.3" y2="467.7" x1="335.02" x2="335.02"/>
<line y1="464.3" y2="467.7" x1="391.13" x2="391.13"/>
<line y1="464.3" y2="467.7" x1="447.24" x2="447.24"/>
<line y1="464.3" y2="467.7" x1="503.35" x2="503.35"/>
<line y1="464.3" y2="467.7" x1="559.46" x2="559.46"/>
<line y1="464.3" y2="467.7" x1="615.57" x2="615.57"/>
<line y1="464.3" y2="467.7" x1="671.68" x2="671.68"/>
<line y1="464.3" y2="467.7" x1="727.79" x2="727.79"/>
<line y1="464.3" y2="467.7" x1="783.90" x2="783.90"/>
<line y1="464.3" y2="467.7" x1="840.01" x2="840.01"/>
<line y1="464.3" y2="467.7" x1="896.12" x2="896.12"/>
<line y1="464.3" y2="467.7" x1="952.23" x2="952.23"/>
<line y1="464.3" y2="467.7" x1="1008.34" x2="1008.34"/>
<line y1="464.3" y2="467.7" x1="1064.45" x2="1064.45"/>
<line y1="464.3" y2="467.7" x1="1120.56" x2="1120.56"/>
<line y1="464.3" y2="467.7" x1="1176.67" x2="1176.67"/>
<line y1="464.3" y2="467.7" x1="1232.78" x2="1232.78"/>
<line y1="464.3" y2="467.7" x1="1288.89" x2="1288.89"/>
<line y1="464.3" y2="467.7" x1="1345.00" x2="1345.00"/>
<line y1="464.3" y2="467.7" x1="1401.11" x2="1401.11"/>
<line y1="464.3" y2="467.7" x1="1457.22" x2="1457.22"/>
<line y1="464.3" y2="467.7" x1="1513.33" x2="1513.33"/>
<line y1="464.3" y2="467.7" x1="1569.44" x2="1569.44"/>
<line y1="464.3" y2="467.7" x1="1625.55" x2="1625.55"/>
<line y1="464.3" y2="467.7" x1="1681.66" x2="1681.66"/>
<line y1="464.3" y2="467.7" x1="1737.77" x2="1737.77"/>
<line y1="464.3" y2="467.7" x1="1793.88" x2="1793.88"/>
<line y1="464.3" y2="467.7" x1="1849.99" x2="1849.99"/>
</g>
<g font-size="24.6" text-anchor="end" fill="#000">
<text x="170.5" y="24.80">VNR</text>
<text x="170.5" y="52.79">TMT-B</text>
<text x="170.5" y="81.38">DSST</text>
<text x="170.5" y="109.97">RT</text>
<text x="170.5" y="138.56">PM</text>
<text x="170.5" y="167.15">g-factor</text>
<text x="168.3" y="195.74">SleepMuch</text>
<text x="170.5" y="224.33">SleepTrouble</text>
<text x="170.5" y="252.92">TiredRecent</text>
<text x="170.5" y="281.51">Movement</text>
<text x="170.5" y="310.10">SleepIssues</text>
<text x="170.5" y="338.69">Interest</text>
<text x="170.5" y="367.28">Inadequacy</text>
<text x="170.5" y="395.87">WorthlessWorst</text>
<text x="170.5" y="424.46">TiredWorst</text>
<text x="170.5" y="453.05">ConcWorst</text>
</g>
<g font-size="20.6" text-anchor="end" fill="#000">
<text transform="translate(239.00,488.5) rotate(-40)">ACYP1</text>
<text transform="translate(295.11,488.5) rotate(-40)">AMT</text>
<text transform="translate(351.22,488.5) rotate(-40)">AREL1</text>
<text transform="translate(410.78,485.6065) rotate(-40)">ARHGAP27</text>
<text transform="translate(463.44,488.5) rotate(-40)">ARL17A</text>
<text transform="translate(519.55,488.5) rotate(-40)">CELSR3</text>
<text transform="translate(575.66,488.5) rotate(-40)">CRHR1</text>
<text transform="translate(631.77,488.5) rotate(-40)">DALRD3</text>
<text transform="translate(687.88,488.5) rotate(-40)">EFCAB13</text>
<text transform="translate(743.99,488.5) rotate(-40)">FMNL1</text>
<text transform="translate(800.10,488.5) rotate(-40)">GPX1</text>
<text transform="translate(856.21,488.5) rotate(-40)">IP6K2</text>
<text transform="translate(912.32,488.5) rotate(-40)">ITIH4</text>
<text transform="translate(968.43,488.5) rotate(-40)">KHK</text>
<text transform="translate(1027.99,485.6065) rotate(-40)">LRRC37A2</text>
<text transform="translate(1083.25,486.3138) rotate(-40)">NDUFAF3</text>
<text transform="translate(1136.76,488.5) rotate(-40)">NICN1</text>
<text transform="translate(1192.87,488.5) rotate(-40)">NME6</text>
<text transform="translate(1247.07,490.1075) rotate(-40)">NPEPPS</text>
<text transform="translate(1307.16,486.7639) rotate(-40)">P4HTM</text>
<text transform="translate(1361.20,488.5) rotate(-40)">PFKFB4</text>
<text transform="translate(1423.82,483.0345) rotate(-40)">PLEKHM1</text>
<text transform="translate(1476.33,486.0566) rotate(-40)">PRKAR2A</text>
<text transform="translate(1532.13,486.3138) rotate(-40)">QRICH1</text>
<text transform="translate(1586.79,487.5355) rotate(-40)">SFMBT1</text>
<text transform="translate(1639.91,490.0432) rotate(-40)">SPPL2C</text>
<text transform="translate(1697.86,488.5) rotate(-40)">TIAF1</text>
<text transform="translate(1758.57,484.642) rotate(-40)">TMEM110</text>
<text transform="translate(1810.08,488.5) rotate(-40)">TREX1</text>
<text transform="translate(1869.64,485.6065) rotate(-40)">ZC2HC1C</text>
</g>
<g font-size="46" fill="#1a1a1a">
<text x="4.5" y="26.8">a</text>
<text x="5.5" y="606.6">b</text>
<text x="1026" y="605.5">c</text>
</g>
<g fill="#1a1a1a">
<text x="1883.6" y="105.6" font-size="28.7">-log</text>
<text x="1931.9" y="115.8" font-size="18.3">10</text>
<text x="1949.8" y="105.6" font-size="28">(<tspan font-style="italic">q</tspan>)</text>
</g>
<circle cx="1923.9" cy="143.4" r="9.0" fill="#000"/>
<text x="1944.4" y="149.6" font-size="20" fill="#000">2</text>
<circle cx="1923.9" cy="166.0" r="10.6" fill="#000"/>
<text x="1944.4" y="172.2" font-size="20" fill="#000">3</text>
<circle cx="1923.9" cy="190.4" r="11.6" fill="#000"/>
<text x="1944.4" y="196.8" font-size="20" fill="#000">4</text>
<defs><linearGradient id="cb" x1="0" y1="1" x2="0" y2="0">
<stop offset="0.0000" stop-color="#f2d84e"/>
<stop offset="0.1489" stop-color="#f5c048"/>
<stop offset="0.3617" stop-color="#f8a044"/>
<stop offset="0.5745" stop-color="#f47e3e"/>
<stop offset="0.7872" stop-color="#ef5c3b"/>
<stop offset="1.0000" stop-color="#ea3b3b"/>
</linearGradient></defs>
<rect x="1910.0" y="239.8" width="24.0" height="112.89999999999998" fill="url(#cb)"/>
<path d="M1910.0 335.89h4.8M1934.0 335.89h-4.8" stroke="#fdf3df" stroke-width="1.5"/>
<text x="1941.6" y="341.49" font-size="20.5" fill="#000">2</text>
<path d="M1910.0 311.86h4.8M1934.0 311.86h-4.8" stroke="#fdf3df" stroke-width="1.5"/>
<text x="1941.6" y="317.46" font-size="20.5" fill="#000">3</text>
<path d="M1910.0 287.84h4.8M1934.0 287.84h-4.8" stroke="#fdf3df" stroke-width="1.5"/>
<text x="1941.6" y="293.44" font-size="20.5" fill="#000">4</text>
<path d="M1910.0 263.82h4.8M1934.0 263.82h-4.8" stroke="#fdf3df" stroke-width="1.5"/>
<text x="1941.6" y="269.42" font-size="20.5" fill="#000">5</text>
<text x="1941.6" y="245.40" font-size="20.5" fill="#000">6</text>
<rect x="70.80" y="667.90" width="70.4" height="303.70" fill="#ece850"/>
<rect x="148.80" y="708.00" width="70.4" height="263.60" fill="#ee2b2a"/>
<rect x="226.80" y="719.10" width="70.4" height="252.50" fill="#2f7b78"/>
<rect x="304.80" y="956.60" width="70.4" height="15.00" fill="#9bd0d2"/>
<rect x="382.80" y="764.80" width="70.4" height="206.80" fill="#4f7c9d"/>
<path d="M59.5 667.9V971.6H464.5" fill="none" stroke="#000" stroke-width="4" stroke-linecap="butt" stroke-linejoin="miter"/>
<g stroke="#444" stroke-width="3.4">
<line x1="106.00" x2="106.00" y1="973.4" y2="975.8000000000001"/>
<line x1="184.00" x2="184.00" y1="973.4" y2="975.8000000000001"/>
<line x1="262.00" x2="262.00" y1="973.4" y2="975.8000000000001"/>
<line x1="340.00" x2="340.00" y1="973.4" y2="975.8000000000001"/>
<line x1="418.00" x2="418.00" y1="973.4" y2="975.8000000000001"/>
<line x1="55.2" x2="57.7" y1="971.60" y2="971.60"/>
<line x1="55.2" x2="57.7" y1="888.60" y2="888.60"/>
<line x1="55.2" x2="57.7" y1="805.60" y2="805.60"/>
<line x1="55.2" x2="57.7" y1="722.60" y2="722.60"/>
</g>
<g font-size="20.5" fill="#4d4d4d" text-anchor="end">
<text x="50.6" y="978.80">0</text>
<text x="50.6" y="895.80">1</text>
<text x="50.6" y="812.80">2</text>
<text x="50.6" y="729.80">3</text>
</g>
<g font-size="25.3" fill="#1f1f1f" text-anchor="end">
<text transform="translate(118.00,987.10) rotate(-40)">Amygdala</text>
<text transform="translate(196.00,987.10) rotate(-40)">Caudate</text>
<text transform="translate(274.00,987.10) rotate(-40)">Hippocampus</text>
<text transform="translate(352.00,987.10) rotate(-40)">Accumbens</text>
<text transform="translate(430.00,987.10) rotate(-40)" letter-spacing="0.8">Putamen</text>
</g>
<text x="268.7" y="655.8" font-size="33" fill="#000" text-anchor="middle"><tspan font-style="italic">LRRC37A2</tspan> vs. VNR</text>
<g transform="translate(27.4,866.3) rotate(-90)" fill="#000">
<text x="-2" y="0" font-size="27.6">−</text>
<text x="15" y="0" font-size="27.6">log</text>
<text x="53.9" y="11" font-size="16.8">10</text>
<text x="70.8" y="0" font-size="28.5">(<tspan font-style="italic">P</tspan>)</text>
</g>
<rect x="563.30" y="966.20" width="70.4" height="5.40" fill="#ece850"/>
<rect x="641.30" y="961.90" width="70.4" height="9.70" fill="#ee2b2a"/>
<rect x="719.30" y="955.60" width="70.4" height="16.00" fill="#2f7b78"/>
<rect x="797.30" y="667.90" width="70.4" height="303.70" fill="#9bd0d2"/>
<rect x="875.30" y="961.90" width="70.4" height="9.70" fill="#4f7c9d"/>
<path d="M552.0 667.9V971.6H957.0" fill="none" stroke="#000" stroke-width="4" stroke-linecap="butt" stroke-linejoin="miter"/>
<g stroke="#444" stroke-width="3.4">
<line x1="598.50" x2="598.50" y1="973.4" y2="975.8000000000001"/>
<line x1="676.50" x2="676.50" y1="973.4" y2="975.8000000000001"/>
<line x1="754.50" x2="754.50" y1="973.4" y2="975.8000000000001"/>
<line x1="832.50" x2="832.50" y1="973.4" y2="975.8000000000001"/>
<line x1="910.50" x2="910.50" y1="973.4" y2="975.8000000000001"/>
<line x1="547.7" x2="550.2" y1="971.60" y2="971.60"/>
<line x1="547.7" x2="550.2" y1="903.10" y2="903.10"/>
<line x1="547.7" x2="550.2" y1="834.60" y2="834.60"/>
<line x1="547.7" x2="550.2" y1="766.10" y2="766.10"/>
<line x1="547.7" x2="550.2" y1="697.60" y2="697.60"/>
</g>
<g font-size="20.5" fill="#4d4d4d" text-anchor="end">
<text x="541.8" y="978.80">0.0</text>
<text x="541.8" y="910.30">2.5</text>
<text x="541.8" y="841.80">5.0</text>
<text x="541.8" y="773.30">7.5</text>
<text x="541.8" y="704.80">10.0</text>
</g>
<g font-size="25.3" fill="#1f1f1f" text-anchor="end">
<text transform="translate(604.00,992.30) rotate(-40)">Amygdala</text>
<text transform="translate(682.00,992.30) rotate(-40)">Caudate</text>
<text transform="translate(760.00,992.30) rotate(-40)">Hippocampus</text>
<text transform="translate(838.00,992.30) rotate(-40)">Accumbens</text>
<text transform="translate(916.00,992.30) rotate(-40)" letter-spacing="0.8">Putamen</text>
</g>
<text x="746.9" y="656.0" font-size="33" fill="#000" text-anchor="middle"><tspan font-style="italic">LRRC37A2</tspan> vs. RT</text>
<g transform="translate(502.4,868.5) rotate(-90)" fill="#000">
<text x="-2" y="0" font-size="27.6">−</text>
<text x="15" y="0" font-size="27.6">log</text>
<text x="53.9" y="11" font-size="16.8">10</text>
<text x="70.8" y="0" font-size="28.5">(<tspan font-style="italic">P</tspan>)</text>
</g>
<rect x="1100.90" y="689.80" width="70.4" height="281.80" fill="#ece850"/>
<rect x="1178.90" y="714.30" width="70.4" height="257.30" fill="#ee2b2a"/>
<rect x="1256.90" y="667.90" width="70.4" height="303.70" fill="#2f7b78"/>
<rect x="1334.90" y="787.00" width="70.4" height="184.60" fill="#9bd0d2"/>
<rect x="1412.90" y="689.80" width="70.4" height="281.80" fill="#4f7c9d"/>
<path d="M1089.6 667.9V971.6H1494.6" fill="none" stroke="#000" stroke-width="4" stroke-linecap="butt" stroke-linejoin="miter"/>
<g stroke="#444" stroke-width="3.4">
<line x1="1136.10" x2="1136.10" y1="973.4" y2="975.8000000000001"/>
<line x1="1214.10" x2="1214.10" y1="973.4" y2="975.8000000000001"/>
<line x1="1292.10" x2="1292.10" y1="973.4" y2="975.8000000000001"/>
<line x1="1370.10" x2="1370.10" y1="973.4" y2="975.8000000000001"/>
<line x1="1448.10" x2="1448.10" y1="973.4" y2="975.8000000000001"/>
<line x1="1085.3" x2="1087.8" y1="971.60" y2="971.60"/>
<line x1="1085.3" x2="1087.8" y1="889.50" y2="889.50"/>
<line x1="1085.3" x2="1087.8" y1="807.40" y2="807.40"/>
<line x1="1085.3" x2="1087.8" y1="725.30" y2="725.30"/>
</g>
<g font-size="20.5" fill="#4d4d4d" text-anchor="end">
<text x="1080.3" y="978.80">0</text>
<text x="1080.3" y="896.70">1</text>
<text x="1080.3" y="814.60">2</text>
<text x="1080.3" y="732.50">3</text>
</g>
<g font-size="25.3" fill="#1f1f1f" text-anchor="end">
<text transform="translate(1148.80,997.20) rotate(-40)">Amygdala</text>
<text transform="translate(1226.80,997.20) rotate(-40)">Caudate</text>
<text transform="translate(1304.80,997.20) rotate(-40)">Hippocampus</text>
<text transform="translate(1382.80,997.20) rotate(-40)">Accumbens</text>
<text transform="translate(1460.80,997.20) rotate(-40)" letter-spacing="0.8">Putamen</text>
</g>
<text x="1089.6" y="655.8" font-size="33" fill="#000" text-anchor="start" letter-spacing="0.15"><tspan font-style="italic">PLEKHM1</tspan> vs. WorthlessWorst</text>
<g transform="translate(1050.7,868.5) rotate(-90)" fill="#000">
<text x="-2" y="0" font-size="27.6">−</text>
<text x="15" y="0" font-size="27.6">log</text>
<text x="53.9" y="11" font-size="16.8">10</text>
<text x="70.8" y="0" font-size="28.5">(<tspan font-style="italic">P</tspan>)</text>
</g>
<rect x="1565.20" y="736.20" width="70.4" height="235.40" fill="#ece850"/>
<rect x="1643.20" y="667.90" width="70.4" height="303.70" fill="#ee2b2a"/>
<rect x="1721.20" y="962.90" width="70.4" height="8.70" fill="#2f7b78"/>
<rect x="1799.20" y="927.10" width="70.4" height="44.50" fill="#9bd0d2"/>
<rect x="1877.20" y="736.20" width="70.4" height="235.40" fill="#4f7c9d"/>
<path d="M1553.9 667.9V971.6H1958.9" fill="none" stroke="#000" stroke-width="4" stroke-linecap="butt" stroke-linejoin="miter"/>
<g stroke="#444" stroke-width="3.4">
<line x1="1600.40" x2="1600.40" y1="973.4" y2="975.8000000000001"/>
<line x1="1678.40" x2="1678.40" y1="973.4" y2="975.8000000000001"/>
<line x1="1756.40" x2="1756.40" y1="973.4" y2="975.8000000000001"/>
<line x1="1834.40" x2="1834.40" y1="973.4" y2="975.8000000000001"/>
<line x1="1912.40" x2="1912.40" y1="973.4" y2="975.8000000000001"/>
<line x1="1549.6000000000001" x2="1552.1000000000001" y1="971.60" y2="971.60"/>
<line x1="1549.6000000000001" x2="1552.1000000000001" y1="911.90" y2="911.90"/>
<line x1="1549.6000000000001" x2="1552.1000000000001" y1="852.20" y2="852.20"/>
<line x1="1549.6000000000001" x2="1552.1000000000001" y1="792.50" y2="792.50"/>
<line x1="1549.6000000000001" x2="1552.1000000000001" y1="732.80" y2="732.80"/>
<line x1="1549.6000000000001" x2="1552.1000000000001" y1="673.10" y2="673.10"/>
</g>
<g font-size="20.5" fill="#4d4d4d" text-anchor="end">
<text x="1544.0" y="978.80">0</text>
<text x="1544.0" y="919.10">1</text>
<text x="1544.0" y="859.40">2</text>
<text x="1544.0" y="799.70">3</text>
<text x="1544.0" y="740.00">4</text>
<text x="1544.0" y="680.30">5</text>
</g>
<g font-size="25.3" fill="#1f1f1f" text-anchor="end">
<text transform="translate(1626.90,996.70) rotate(-40)">Amygdala</text>
<text transform="translate(1704.90,996.70) rotate(-40)">Caudate</text>
<text transform="translate(1782.90,996.70) rotate(-40)">Hippocampus</text>
<text transform="translate(1860.90,996.70) rotate(-40)">Accumbens</text>
<text transform="translate(1938.90,996.70) rotate(-40)" letter-spacing="0.8">Putamen</text>
</g>
<text x="1768.3" y="656.8" font-size="33" fill="#000" text-anchor="middle"><tspan font-style="italic">PLEKHM1</tspan> vs. VNR</text>
<g transform="translate(1522.3,869.2) rotate(-90)" fill="#000">
<text x="-2" y="0" font-size="27.6">−</text>
<text x="15" y="0" font-size="27.6">log</text>
<text x="53.9" y="11" font-size="16.8">10</text>
<text x="70.8" y="0" font-size="28.5">(<tspan font-style="italic">P</tspan>)</text>
</g>
</svg>
</body></html>
